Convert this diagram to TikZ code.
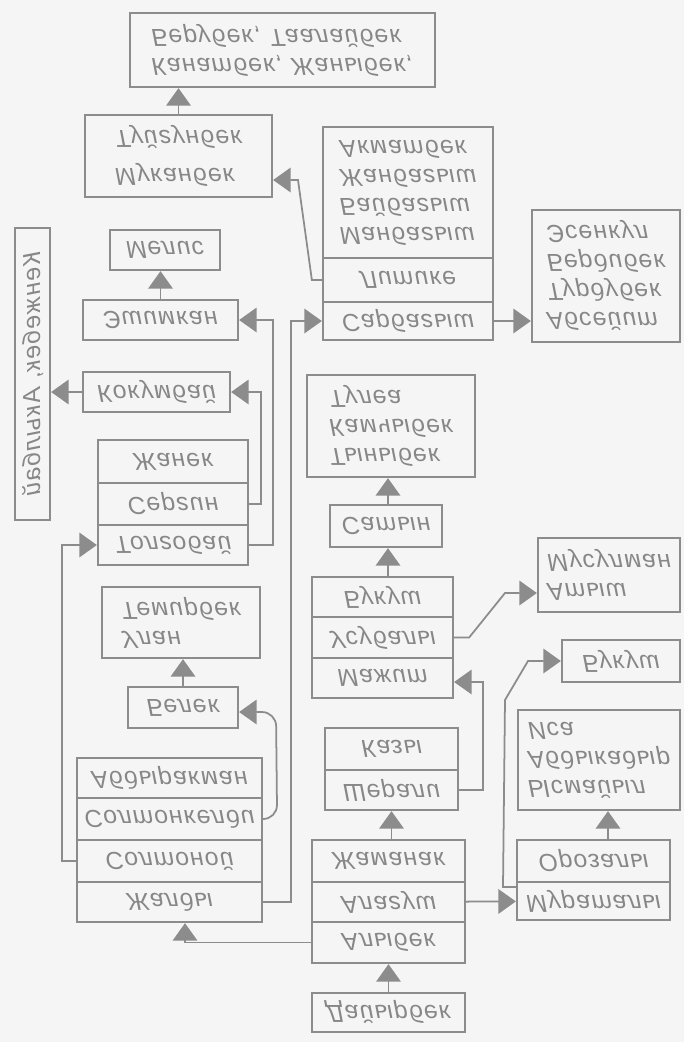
\documentclass[tikz,border=0pt]{standalone}
\usepackage{fontspec}
\setmainfont{Liberation Sans}
\newfontfamily\chartfont[LetterSpace=5]{Liberation Sans}
\usetikzlibrary{arrows.meta}

\begin{document}
\begin{tikzpicture}[x=0.02cm, y=0.02cm, yscale=-1,
	every node/.append style={transform shape},
	box/.style={draw=black!45, line width=1.3pt, text=black!47, font=\chartfont\itshape\fontsize{14}{16.5}\selectfont, align=left, inner sep=1pt},
	arr/.style={draw=black!45, line width=1pt, -{Triangle[length=10pt,width=14pt]}}]
			\fill[black!4] (0,0) rectangle (684,1042);
			\node[box, minimum width=6.10cm, minimum height=1.48cm] (kan) at (282.5,50) {Канатбек, Жаныбек,\\Берубек, Таалайбек};
			\node[box, minimum width=3.74cm, minimum height=1.64cm] (muk) at (178.5,156) {Муканбек\\[5pt]Туйгунбек};
			\node[box, minimum width=3.40cm, minimum height=2.62cm] (mbg) at (408,192.5) {Манбагыш\\Байбагыш\\Жанбагыш\\Акматбек};
			\node[box, minimum width=3.40cm, minimum height=0.88cm] (lit) at (408,280) {Литике};
			\node[box, minimum width=3.40cm, minimum height=0.76cm] (sar) at (408,321) {Сарбагыш};
			\node[box, minimum width=2.96cm, minimum height=2.64cm] (abs) at (606,276) {Абсейит\\Турдубек\\Бердибек\\Эсенкул};
			\node[box, minimum width=2.20cm, minimum height=0.80cm] (mel) at (165,250) {Мелис};
			\node[box, minimum width=3.10cm, minimum height=0.80cm] (esh) at (160.5,320) {Эшимкан};
			\node[box, minimum width=2.94cm, minimum height=0.80cm] (kok) at (156.5,392) {Кокумбай};
			\node[box, rotate=90, minimum width=5.84cm, minimum height=0.70cm] (ken) at (32.5,374) {Кенжебек, Акылбай};
			\node[box, minimum width=3.00cm, minimum height=0.86cm] (zhk) at (173,461.5) {Жанек};
			\node[box, minimum width=3.00cm, minimum height=0.84cm] (ser) at (173,504) {Сергин};
			\node[box, minimum width=3.00cm, minimum height=0.80cm] (tol) at (173,545) {Толгобай};
			\node[box, minimum width=3.16cm, minimum height=1.42cm] (ula) at (181,622.5) {Улан\\Темирбек};
			\node[box, minimum width=2.20cm, minimum height=0.82cm] (bel) at (183,707.5) {Белек};
			\node[box, minimum width=3.70cm, minimum height=0.80cm] (abd) at (169.5,778) {Абдыракман};
			\node[box, minimum width=3.70cm, minimum height=0.84cm] (stk) at (169.5,819) {Солтонкелди};
			\node[box, minimum width=3.70cm, minimum height=0.84cm] (stn) at (169.5,861) {Солтоной};
			\node[box, minimum width=3.70cm, minimum height=0.80cm] (zhl) at (169.5,902) {Жалды};
			\node[box, minimum width=3.06cm, minimum height=0.84cm] (zhm) at (388.5,861) {Жаманак};
			\node[box, minimum width=3.06cm, minimum height=0.80cm] (alg) at (388.5,902) {Алагуш};
			\node[box, minimum width=3.06cm, minimum height=0.82cm] (aly) at (388.5,942.5) {Алыбек};
			\node[box, minimum width=3.06cm, minimum height=0.78cm] (dai) at (388.5,1012.5) {Дайырбек};
			\node[box, minimum width=3.06cm, minimum height=0.84cm] (oro) at (593.5,861) {Орозалы};
			\node[box, minimum width=3.06cm, minimum height=0.76cm] (mur) at (593.5,901) {Мураталы};
			\node[box, minimum width=3.24cm, minimum height=2.00cm] (ysm) at (599,760) {Ысмайыл\\Абдыкадыр\\Иса};
			\node[box, minimum width=2.36cm, minimum height=0.84cm] (bk2) at (621,661) {Букуш};
			\node[box, minimum width=2.66cm, minimum height=0.84cm] (kaz) at (391.5,749) {Казы};
			\node[box, minimum width=2.66cm, minimum height=0.80cm] (she) at (391.5,790) {Шерали};
			\node[box, minimum width=2.82cm, minimum height=0.80cm] (bk1) at (382.5,597) {Букуш};
			\node[box, minimum width=2.82cm, minimum height=0.82cm] (usu) at (382.5,637.5) {Усубалы};
			\node[box, minimum width=2.82cm, minimum height=0.80cm] (maz) at (382.5,678) {Мажит};
			\node[box, minimum width=2.84cm, minimum height=1.48cm] (ats) at (609,575) {Атыш\\Мусулман};
			\node[box, minimum width=2.24cm, minimum height=0.84cm] (sat) at (386,526) {Сатын};
			\node[box, minimum width=3.36cm, minimum height=2.04cm] (tyn) at (391,426) {Тыныбек\\Камчыбек\\Тулеа};
			\draw[arr] (dai) -- (aly);
			\draw[arr] (alg) -- (mur);
			\draw[arr] (aly.west) -| (zhl.north -| 185,0);
			\draw[arr] (zhm.south -| she) -- (she);
			\draw[arr] (oro.south -| 608,0) -- (ysm.north -| 608,0);
			\draw[arr] (mur.west |- 0,887) -- (503,887) -- (505,700) -- (528,661) -- (bk2.west);
			\draw[arr] (she.east) -- ++(24,0) |- (maz.east |- 0,682);
			\draw[arr] (usu.east) -- ++(15,0) -- (505,593) -- (ats.west |- 0,593);
			\draw[arr] (bk1.south -| 388,0) -- (sat.north -| 388,0);
			\draw[arr] (sat.south -| 388,0) -- (tyn.north -| 388,0);
			\draw[arr] (zhl.east) -- ++(28,0) |- (sar.west);
			\draw[arr] (sar.east) -- (sar.east -| abs.west);
			\draw[arr] (lit.west) -- ++(-10,0) -- (298,180) -- (muk.east |- 0,180);
			\draw[arr] (muk.south) -- (muk.south |- kan.north);
			\draw[arr] (stn.west) -- ++(-14,0) |- (tol.west);
			\draw[arr, rounded corners=8pt] (stk.east) -- ++(14,0) -- (276,712) -- (bel.east |- 0,712);
			\draw[arr] (bel.south) -- (bel.south |- ula.north);
			\draw[arr] (tol.east) -- ++(24,0) |- (esh.east);
			\draw[arr] (ser.east) -- ++(12,0) |- (kok.east);
			\draw[arr] (esh.south) -- (esh.south |- mel.north);
			\draw[arr] (kok.west) -- (kok.west -| ken.south);
\end{tikzpicture}
\end{document}
